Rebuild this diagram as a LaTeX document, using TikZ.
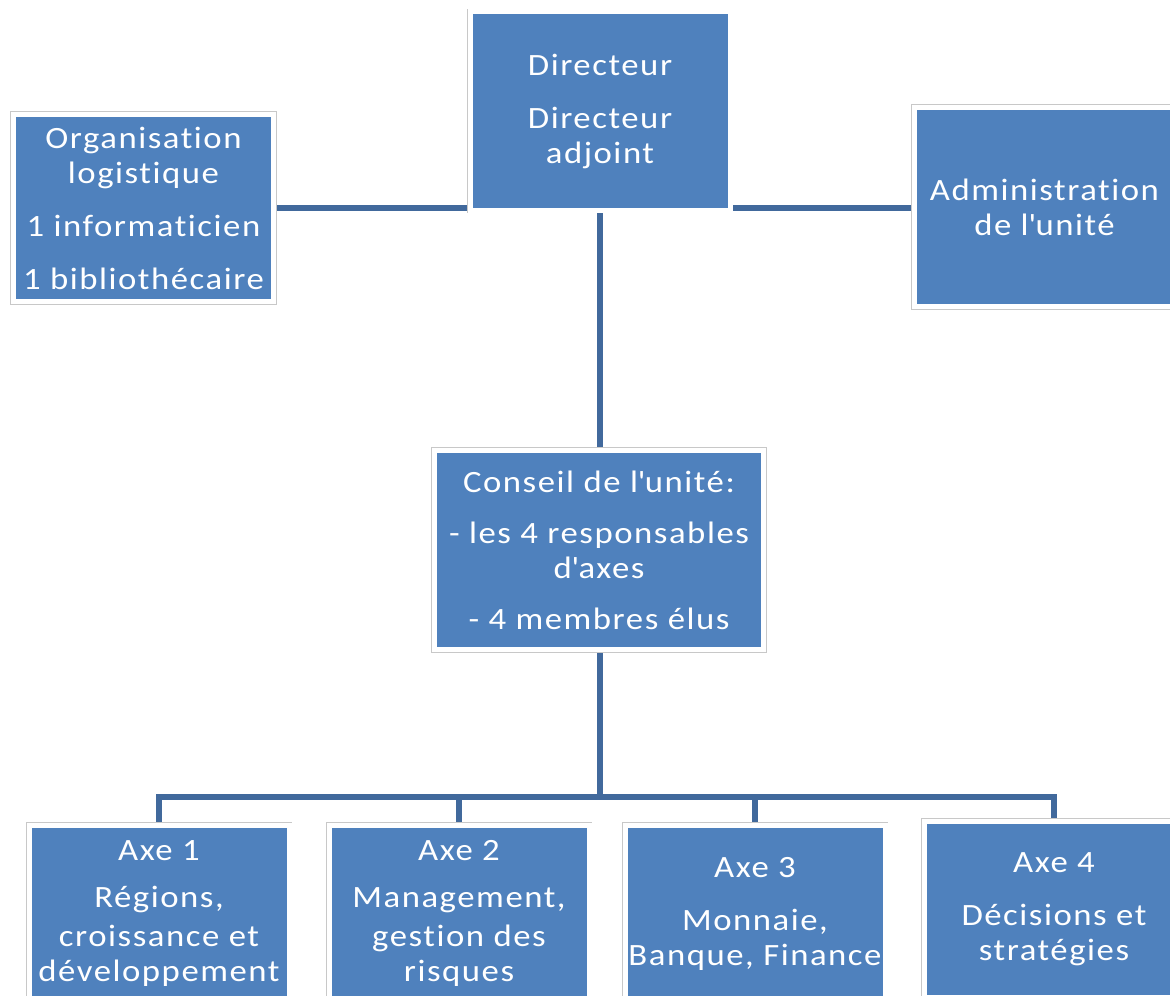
\documentclass[tikz,border=0pt]{standalone}
\usepackage{fontspec}
\setmainfont{Carlito}[FakeStretch=1.12, LetterSpace=5, Ligatures=NoCommon]
\usetikzlibrary{backgrounds}
\definecolor{boxblue}{HTML}{4F81BD}
\definecolor{linkblue}{HTML}{41699C}
\definecolor{framegray}{HTML}{C8C8C8}
\newcommand{\ap}{\textquotesingle}
\tikzset{
  unit/.style={rectangle, fill=boxblue, draw=white, line width=2.5pt,
    preaction={draw=framegray, line width=3.4pt},
    text=white, align=center, inner sep=0pt, minimum width=130pt,
    font=\fontsize{15.5}{17.5}\selectfont},
  link/.style={draw=linkblue, line width=3pt}
  }

\begin{document}
\begin{tikzpicture}[x=0.5pt, y=-0.5pt]
	\useasboundingbox (0,0) rectangle (1170,995);

	% Nodes
	\node[unit, minimum height=99pt] (dir) at (600,111) {Directeur\\[9pt]Directeur\\adjoint};
	\node[unit, minimum height=93.5pt] (org) at (143.5,208) {Organisation\\logistique\\[9pt]1 informaticien\\[9pt]1 bibliothécaire};
	\node[unit, minimum height=99.5pt] (adm) at (1044.5,207) {Administration\\de l\ap unité};
	\node[unit, minimum height=99.5pt, minimum width=164.5pt] (conseil) at (599,550) {Conseil de l\ap unité:\\[8pt]- les 4 responsables\\d\ap axes\\[8pt]- 4 membres élus};

	\node[unit, minimum height=88pt] (axe1) at (159,913.5) {Axe 1\\[6pt]Régions,\\[2pt]croissance et\\développement};
	\node[unit, minimum height=88pt] (axe2) at (459,913.5) {Axe 2\\[6pt]Management,\\[2pt]gestion des\\risques};
	\node[unit, minimum height=88pt] (axe3) at (755,913.5) {Axe 3\\[9pt]Monnaie,\\Banque, Finance};
	\node[unit, minimum height=88pt] (axe4) at (1054,909.5) {Axe 4\\[9pt]Décisions et\\stratégies};

	\coordinate (bus) at (600,797);

	% Lines
	\begin{scope}[on background layer]
		\draw[link] (org) -- (org -| adm.west);
		\draw[link] (dir.south) -- (dir.south |- conseil.north);
		\draw[link] (conseil.south -| bus) -- (bus);
		\draw[link] (axe1.north) |- (bus) -| (axe4.north);
		\draw[link] (bus) -| (axe2.north);
		\draw[link] (bus) -| (axe3.north);
	\end{scope}
\end{tikzpicture}
\end{document}
